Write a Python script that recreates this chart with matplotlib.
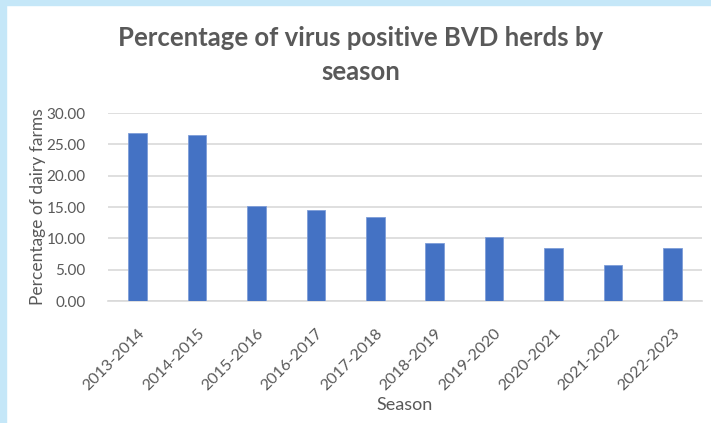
import matplotlib.pyplot as plt
from matplotlib.patches import Rectangle

# dados
temporadas = ['2013-2014', '2014-2015', '2015-2016', '2016-2017', '2017-2018',
              '2018-2019', '2019-2020', '2020-2021', '2021-2022', '2022-2023']
percentuais = [26.85, 26.5, 15.2, 14.6, 13.35, 9.25, 10.15, 8.45, 5.8, 8.5]
yticks = [0, 5, 10, 15, 20, 25, 30]

cinza = '#595959'
azul = '#4472C4'

plt.rcParams['font.family'] = ['Lato', 'DejaVu Sans']

fig = plt.figure(figsize=(7.11, 4.23), dpi=100)

# borda azul clara (topo e esquerda)
fig.patches.append(Rectangle((0, 1 - 5 / 423), 1, 5 / 423, transform=fig.transFigure,
                             color='#C5E7F8', zorder=0))
fig.patches.append(Rectangle((0, 0), 6 / 711, 1, transform=fig.transFigure,
                             color='#C5E7F8', zorder=0))

ax = fig.add_axes([108 / 711, 1 - 301 / 423, 594 / 711, 188 / 423])
x = range(len(temporadas))
ax.bar(x, percentuais, width=0.31, color=azul, edgecolor='#7E9DD8', linewidth=0.6, zorder=3)

ax.set_xlim(-0.5, len(temporadas) - 0.5)
ax.set_ylim(0, 30)
ax.set_yticks(yticks)
ax.set_yticklabels([f'{v:.2f}' for v in yticks])
ax.set_xticks(list(x))
ax.set_xticklabels(temporadas, rotation=45, ha='right', rotation_mode='anchor')

ax.grid(axis='y', color='#D9D9D9', linewidth=1.2, zorder=0)
for s in ['top', 'right', 'left']:
    ax.spines[s].set_visible(False)
ax.spines['bottom'].set_color('#D9D9D9')
ax.spines['bottom'].set_linewidth(1.2)
ax.tick_params(axis='both', length=0, colors=cinza)
ax.tick_params(axis='y', pad=16, labelsize=11)
ax.tick_params(axis='x', pad=18, labelsize=11.5)

ax.set_ylabel('Percentage of dairy farms', color=cinza, fontsize=12.5)
ax.yaxis.set_label_coords((46 - 108) / 594, 0.5)
ax.set_xlabel('Season', color=cinza, fontsize=13)
ax.xaxis.set_label_coords(0.5, -96 / 188)

fig.text(0.507, 1 - 38 / 423, 'Percentage of virus positive BVD herds by',
         ha='center', va='center', fontsize=18.5, fontweight='bold', color=cinza)
fig.text(0.507, 1 - 72 / 423, 'season',
         ha='center', va='center', fontsize=18.5, fontweight='bold', color=cinza)

plt.savefig('out.png', dpi=100)
plt.close()
